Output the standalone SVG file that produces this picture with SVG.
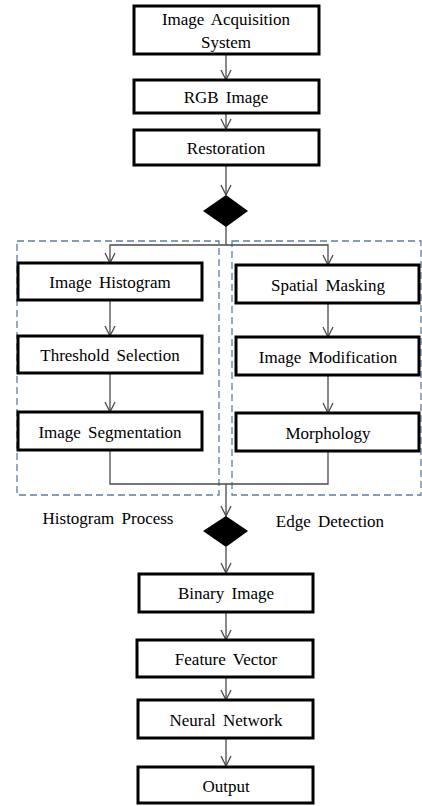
<svg xmlns="http://www.w3.org/2000/svg" width="422" height="806" viewBox="0 0 422 806">
<style>
.box{fill:#fff;stroke:#000;stroke-width:3}
.lbl{font-family:"Liberation Serif","Times New Roman",serif;font-size:17px;fill:#000;text-anchor:middle;word-spacing:3px}
.con{fill:none;stroke:#4a4a4a;stroke-width:1.3}
.grp{fill:none;stroke:#5a7fa8;stroke-width:1.3;stroke-dasharray:7 4}
.dia{fill:#000}
</style>
<defs>
<marker id="arr" markerWidth="12" markerHeight="12" viewBox="0 0 12 12" refX="11" refY="6" orient="auto" markerUnits="userSpaceOnUse">
<path d="M1,1 L11,6 L1,11" fill="none" stroke="#4a4a4a" stroke-width="1.3"/>
</marker>
</defs>
<g id="groups">
<rect class="grp" x="17" y="241" width="202" height="254"/>
<rect class="grp" x="232" y="241" width="189" height="254"/>
</g>
<g id="connectors">
<path class="con" d="M226,55 V80" marker-end="url(#arr)"/>
<path class="con" d="M226,113 V129" marker-end="url(#arr)"/>
<path class="con" d="M226,165 V195" marker-end="url(#arr)"/>
<path class="con" d="M226,226 V245 H110 V263" marker-end="url(#arr)"/>
<path class="con" d="M226,245 H328 V265" marker-end="url(#arr)"/>
<path class="con" d="M110,300 V336" marker-end="url(#arr)"/>
<path class="con" d="M110,373 V412" marker-end="url(#arr)"/>
<path class="con" d="M328,303 V337" marker-end="url(#arr)"/>
<path class="con" d="M328,375 V413" marker-end="url(#arr)"/>
<path class="con" d="M110,450 V484 H328 V451"/>
<path class="con" d="M226,484 V516" marker-end="url(#arr)"/>
<path class="con" d="M226,547 V573" marker-end="url(#arr)"/>
<path class="con" d="M226,612 V640" marker-end="url(#arr)"/>
<path class="con" d="M226,677 V700" marker-end="url(#arr)"/>
<path class="con" d="M226,738 V766" marker-end="url(#arr)"/>
</g>
<g id="acq"><rect class="box" x="134" y="6" width="185" height="48"/><text class="lbl" x="226" y="25">Image Acquisition</text><text class="lbl" x="226" y="48">System</text></g>
<g id="rgb"><rect class="box" x="134" y="80" width="185" height="33"/><text class="lbl" x="226" y="103">RGB Image</text></g>
<g id="restoration"><rect class="box" x="134" y="130" width="185" height="35"/><text class="lbl" x="226" y="154">Restoration</text></g>
<g id="decision1"><polygon class="dia" points="226,195 248,211 226,227 203,211"/></g>
<g id="histogram"><rect class="box" x="18" y="263" width="184" height="37"/><text class="lbl" x="110" y="288">Image Histogram</text></g>
<g id="threshold"><rect class="box" x="18" y="336" width="184" height="37"/><text class="lbl" x="110" y="361">Threshold Selection</text></g>
<g id="segmentation"><rect class="box" x="18" y="412" width="184" height="38"/><text class="lbl" x="110" y="438">Image Segmentation</text></g>
<g id="spatial"><rect class="box" x="236" y="265" width="183" height="38"/><text class="lbl" x="328" y="291">Spatial Masking</text></g>
<g id="modification"><rect class="box" x="236" y="337" width="183" height="38"/><text class="lbl" x="328" y="363">Image Modification</text></g>
<g id="morphology"><rect class="box" x="236" y="413" width="183" height="38"/><text class="lbl" x="328" y="439">Morphology</text></g>
<g id="hist-label"><text class="lbl" x="108" y="524">Histogram Process</text></g>
<g id="edge-label"><text class="lbl" x="330" y="527">Edge Detection</text></g>
<g id="decision2"><polygon class="dia" points="226,516 248,531 226,547 203,531"/></g>
<g id="binary"><rect class="box" x="139" y="574" width="174" height="38"/><text class="lbl" x="226" y="599">Binary Image</text></g>
<g id="feature"><rect class="box" x="137" y="640" width="176" height="37"/><text class="lbl" x="226" y="665">Feature Vector</text></g>
<g id="neural"><rect class="box" x="138" y="700" width="175" height="38"/><text class="lbl" x="226" y="726">Neural Network</text></g>
<g id="output"><rect class="box" x="138" y="767" width="175" height="36"/><text class="lbl" x="226" y="792">Output</text></g>
</svg>
